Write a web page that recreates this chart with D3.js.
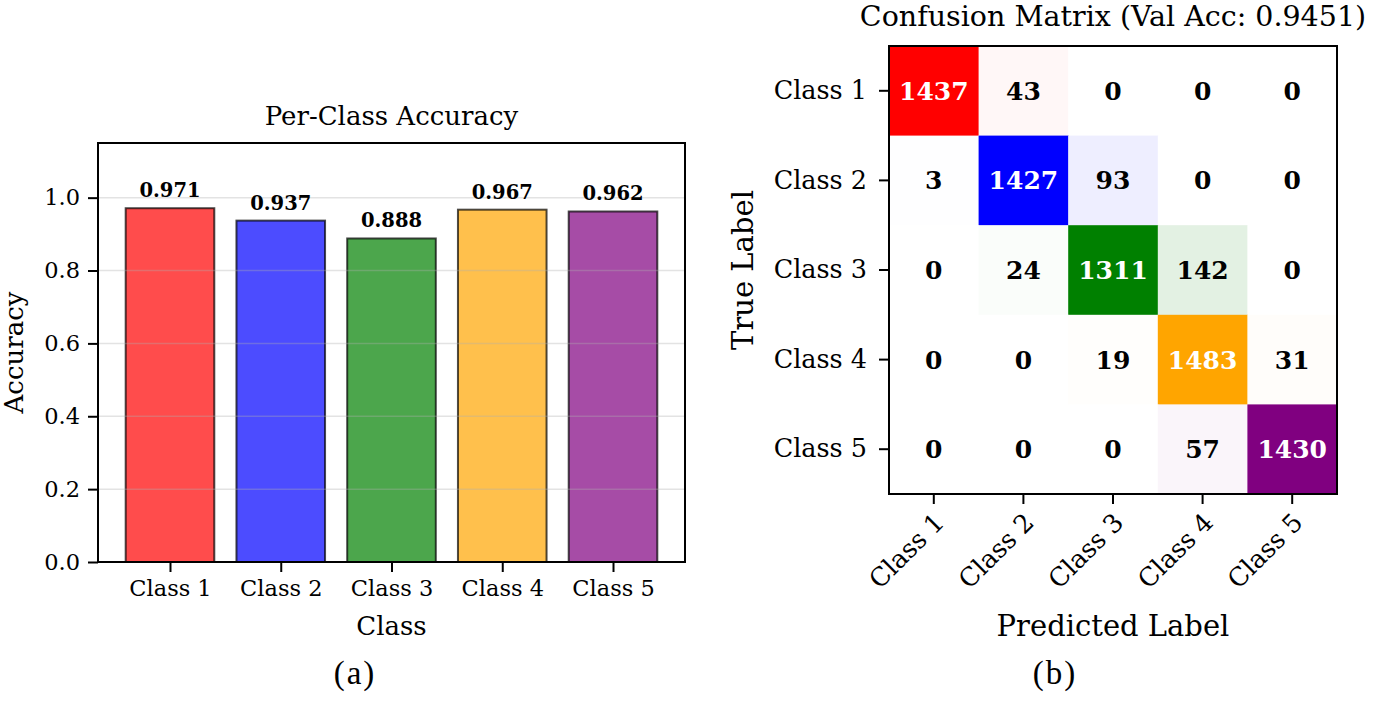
<!DOCTYPE html>
<html>
<head>
<meta charset="utf-8">
<script src="https://cdn.jsdelivr.net/npm/d3@7"></script>
<style>
  body { margin: 0; background: #fff; }
  text { font-family: "DejaVu Serif", serif; fill: #000; }
</style>
</head>
<body>
<div id="chart"></div>
<script>
// data
var classes = ["Class 1", "Class 2", "Class 3", "Class 4", "Class 5"];
var classColors = ["red", "blue", "green", "orange", "purple"];
var accuracy = [0.971, 0.937, 0.888, 0.967, 0.962];
var accTicks = [0.0, 0.2, 0.4, 0.6, 0.8, 1.0];
var confusion = [
	[1437, 43, 0, 0, 0],
	[3, 1427, 93, 0, 0],
	[0, 24, 1311, 142, 0],
	[0, 0, 19, 1483, 31],
	[0, 0, 0, 57, 1430]
];
var valAcc = 0.9451;

var svg = d3.select("#chart").append("svg")
	.attr("width", 1373)
	.attr("height", 705);

// ---------- (a) per-class accuracy ----------
var a = { left: 98, right: 685, top: 143, bottom: 562 };

var xBar = d3.scaleLinear().domain([-0.65, classes.length - 0.35]).range([a.left, a.right]);
var yBar = d3.scaleLinear().domain([0, 1.15]).range([a.bottom, a.top]);
var barW = xBar(0.8) - xBar(0);

var ga = svg.append("g");

ga.selectAll("rect.bar")
	.data(accuracy)
	.enter().append("rect")
	.attr("class", "bar")
	.attr("x", function(d, i) { return xBar(i) - barW / 2; })
	.attr("y", function(d) { return yBar(d); })
	.attr("width", barW)
	.attr("height", function(d) { return yBar(0) - yBar(d); })
	.attr("fill", function(d, i) { return classColors[i]; })
	.attr("fill-opacity", 0.7)
	.attr("stroke", "#000")
	.attr("stroke-opacity", 0.7)
	.attr("stroke-width", 2);

// grid sits above the bars like matplotlib's default
ga.selectAll("line.grid")
	.data(accTicks)
	.enter().append("line")
	.attr("class", "grid")
	.attr("x1", a.left).attr("x2", a.right)
	.attr("y1", function(d) { return yBar(d); })
	.attr("y2", function(d) { return yBar(d); })
	.attr("stroke", "#b0b0b0")
	.attr("stroke-opacity", 0.35)
	.attr("stroke-width", 1.5);

ga.selectAll("text.val")
	.data(accuracy)
	.enter().append("text")
	.attr("class", "val")
	.attr("x", function(d, i) { return xBar(i); })
	.attr("y", function(d) { return yBar(d) - 11; })
	.attr("text-anchor", "middle")
	.style("font-size", "19.5px")
	.style("font-weight", "bold")
	.text(function(d) { return d.toFixed(3); });

var yAxisA = ga.append("g")
	.attr("transform", "translate(" + a.left + ",0)")
	.call(d3.axisLeft(yBar).tickValues(accTicks).tickFormat(d3.format(".1f")).tickSize(10).tickPadding(8));
var xAxisA = ga.append("g")
	.attr("transform", "translate(0," + a.bottom + ")")
	.call(d3.axisBottom(xBar).tickValues(d3.range(classes.length)).tickFormat(function(i) { return classes[i]; }).tickSize(10).tickPadding(8));

[yAxisA, xAxisA].forEach(function(ax) {
	ax.select(".domain").remove();
	ax.selectAll(".tick line").attr("stroke", "#000").attr("stroke-width", 2);
	ax.selectAll(".tick text").style("font-family", "DejaVu Serif").style("font-size", "22.5px");
});

ga.append("rect")
	.attr("x", a.left).attr("y", a.top)
	.attr("width", a.right - a.left).attr("height", a.bottom - a.top)
	.attr("fill", "none").attr("stroke", "#000").attr("stroke-width", 2);

ga.append("text")
	.attr("x", (a.left + a.right) / 2).attr("y", 125)
	.attr("text-anchor", "middle").style("font-size", "26px")
	.text("Per-Class Accuracy");
ga.append("text")
	.attr("x", (a.left + a.right) / 2).attr("y", 635)
	.attr("text-anchor", "middle").style("font-size", "26px")
	.text("Class");
ga.append("text")
	.attr("transform", "translate(23," + (a.top + a.bottom) / 2 + ") rotate(-90)")
	.attr("text-anchor", "middle").style("font-size", "26px")
	.text("Accuracy");
ga.append("text")
	.attr("x", 355).attr("y", 684)
	.attr("text-anchor", "middle")
	.style("font-family", "Liberation Serif").style("font-size", "33px").style("letter-spacing", "2px")
	.text("(a)");

// ---------- (b) confusion matrix ----------
var b = { left: 889, right: 1337, top: 46, bottom: 494 };

var xCm = d3.scaleBand().domain(classes).range([b.left, b.right]);
var yCm = d3.scaleBand().domain(classes).range([b.top, b.bottom]);

var cells = [];
confusion.forEach(function(row, i) {
	var rowMax = d3.max(row);
	row.forEach(function(v, j) {
		cells.push({ r: i, c: j, v: v, t: v / rowMax });
	});
});

var gb = svg.append("g");

gb.selectAll("rect.cell")
	.data(cells)
	.enter().append("rect")
	.attr("class", "cell")
	.attr("x", function(d) { return xCm(classes[d.c]); })
	.attr("y", function(d) { return yCm(classes[d.r]); })
	.attr("width", xCm.bandwidth() + 0.5)
	.attr("height", yCm.bandwidth() + 0.5)
	.attr("fill", function(d) { return d3.interpolateRgb("#ffffff", classColors[d.r])(d.t); });

gb.selectAll("text.num")
	.data(cells)
	.enter().append("text")
	.attr("class", "num")
	.attr("x", function(d) { return xCm(classes[d.c]) + xCm.bandwidth() / 2; })
	.attr("y", function(d) { return yCm(classes[d.r]) + yCm.bandwidth() / 2; })
	.attr("dy", "0.36em")
	.attr("text-anchor", "middle")
	.style("font-size", "25px")
	.style("font-weight", "bold")
	.style("fill", function(d) { return d.r === d.c ? "#fff" : "#000"; })
	.text(function(d) { return d.v; });

var yAxisB = gb.append("g")
	.attr("transform", "translate(" + b.left + ",0)")
	.call(d3.axisLeft(yCm).tickSize(10).tickPadding(12));
var xAxisB = gb.append("g")
	.attr("transform", "translate(0," + b.bottom + ")")
	.call(d3.axisBottom(xCm).tickSize(10).tickPadding(8));

[yAxisB, xAxisB].forEach(function(ax) {
	ax.select(".domain").remove();
	ax.selectAll(".tick line").attr("stroke", "#000").attr("stroke-width", 2);
	ax.selectAll(".tick text").style("font-family", "DejaVu Serif").style("font-size", "25.5px");
});

// rotated x labels, right aligned to the tick
xAxisB.selectAll(".tick text")
	.attr("y", 0).attr("dy", 0)
	.attr("text-anchor", "end")
	.attr("transform", "translate(12,30) rotate(-45)");

gb.append("rect")
	.attr("x", b.left).attr("y", b.top)
	.attr("width", b.right - b.left).attr("height", b.bottom - b.top)
	.attr("fill", "none").attr("stroke", "#000").attr("stroke-width", 2);

gb.append("text")
	.attr("x", (b.left + b.right) / 2).attr("y", 26)
	.attr("text-anchor", "middle").style("font-size", "28.5px")
	.text("Confusion Matrix (Val Acc: " + valAcc.toFixed(4) + ")");
gb.append("text")
	.attr("x", (b.left + b.right) / 2).attr("y", 636)
	.attr("text-anchor", "middle").style("font-size", "29px")
	.text("Predicted Label");
gb.append("text")
	.attr("transform", "translate(753," + (b.top + b.bottom) / 2 + ") rotate(-90)")
	.attr("text-anchor", "middle").style("font-size", "29px")
	.text("True Label");
gb.append("text")
	.attr("x", 1055).attr("y", 684)
	.attr("text-anchor", "middle")
	.style("font-family", "Liberation Serif").style("font-size", "33px").style("letter-spacing", "2px")
	.text("(b)");
</script>
</body>
</html>
